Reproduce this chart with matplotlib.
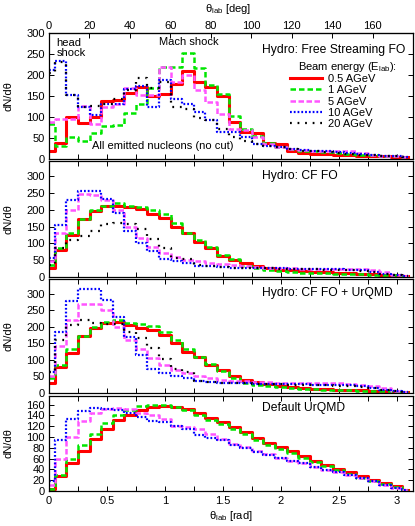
import numpy as np
import matplotlib
matplotlib.use("Agg")
import matplotlib.pyplot as plt
from matplotlib.ticker import MultipleLocator, FixedLocator, FuncFormatter

plt.rcParams['font.family'] = ['Liberation Sans', 'DejaVu Sans']
plt.rcParams['font.size'] = 8
plt.rcParams['mathtext.fontset'] = 'custom'
plt.rcParams['mathtext.rm'] = 'Liberation Sans'
plt.rcParams['mathtext.it'] = 'Liberation Sans'

theta = np.round(np.arange(32) * 0.1, 2)
energies = ["0.5 AGeV", "1 AGeV", "5 AGeV", "10 AGeV", "20 AGeV"]
deg_ticks = [0, 20, 40, 60, 80, 100, 120, 140, 160]

# Panel 1: Hydro free streaming FO
fs_05 = [20, 38, 100, 85, 100, 138, 140, 158, 172, 150, 154, 178, 210, 184, 172, 150, 88, 65, 62, 38, 35, 18, 14, 12, 11, 10, 9, 8, 7, 6, 5, 4]
fs_1 = [84, 30, 52, 44, 62, 78, 80, 110, 132, 168, 218, 218, 252, 216, 176, 154, 102, 72, 55, 39, 28, 24, 20, 18, 16, 14, 12, 10, 9, 8, 6, 5]
fs_5 = [88, 96, 96, 126, 84, 124, 130, 170, 152, 152, 220, 184, 200, 164, 136, 108, 72, 68, 52, 36, 28, 24, 22, 20, 20, 20, 18, 14, 10, 8, 6, 5]
fs_10 = [212, 234, 152, 124, 104, 130, 130, 166, 174, 124, 188, 144, 132, 112, 94, 64, 64, 52, 36, 32, 28, 24, 22, 20, 18, 16, 14, 12, 10, 8, 6, 5]
fs_20 = [205, 230, 152, 124, 126, 132, 142, 164, 194, 170, 184, 124, 120, 98, 92, 72, 52, 44, 36, 32, 28, 24, 20, 18, 16, 14, 12, 10, 9, 8, 6, 5]

# Panel 2: Hydro CF FO
cf_05 = [27, 79, 125, 172, 195, 210, 212, 208, 202, 188, 175, 150, 130, 105, 85, 62, 52, 42, 32, 27, 22, 20, 17, 15, 14, 12, 11, 10, 8, 7, 5, 3]
cf_1 = [37, 87, 132, 172, 198, 212, 220, 212, 208, 200, 188, 160, 132, 109, 88, 65, 55, 32, 27, 22, 18, 15, 13, 12, 11, 10, 9, 8, 7, 6, 5, 3]
cf_5 = [47, 132, 198, 246, 243, 230, 200, 150, 115, 89, 72, 59, 52, 47, 42, 38, 35, 33, 30, 28, 27, 26, 25, 25, 25, 25, 25, 24, 20, 14, 7, 3]
cf_10 = [57, 155, 228, 256, 256, 231, 190, 137, 102, 77, 55, 47, 42, 32, 32, 30, 28, 28, 27, 27, 26, 25, 25, 24, 24, 23, 22, 20, 15, 10, 6, 3]
cf_20 = [37, 87, 109, 122, 137, 157, 162, 159, 142, 112, 87, 57, 55, 35, 32, 30, 28, 28, 27, 26, 25, 24, 24, 23, 22, 21, 20, 18, 14, 10, 6, 3]

# Panel 3: Hydro CF FO + UrQMD
cfu_05 = [30, 78, 122, 172, 197, 212, 215, 205, 198, 190, 175, 152, 125, 108, 85, 70, 50, 40, 32, 28, 22, 18, 15, 13, 12, 10, 9, 8, 7, 5, 4, 2]
cfu_1 = [45, 85, 132, 172, 200, 215, 220, 213, 210, 202, 185, 160, 132, 108, 87, 67, 45, 30, 25, 20, 17, 14, 12, 11, 10, 9, 8, 7, 6, 5, 4, 2]
cfu_5 = [50, 142, 220, 270, 268, 252, 200, 160, 132, 105, 85, 70, 60, 52, 45, 40, 37, 35, 33, 32, 31, 30, 30, 30, 30, 30, 28, 25, 20, 14, 7, 3]
cfu_10 = [65, 185, 278, 315, 315, 282, 230, 170, 115, 72, 60, 50, 45, 35, 33, 31, 30, 29, 28, 27, 27, 26, 26, 25, 25, 24, 23, 20, 15, 10, 6, 3]
cfu_20 = [65, 160, 205, 220, 212, 208, 210, 185, 165, 135, 102, 72, 65, 35, 33, 31, 30, 29, 28, 27, 26, 25, 25, 24, 23, 22, 21, 18, 14, 10, 6, 3]

# Panel 4: Default UrQMD
uq_05 = [3, 27, 51, 75, 97, 115, 132, 140, 150, 156, 157, 155, 151, 145, 136, 128, 118, 109, 98, 89, 82, 74, 65, 56, 48, 40, 35, 27, 21, 15, 9, 2]
uq_1 = [4, 30, 59, 85, 106, 126, 140, 150, 157, 159, 159, 156, 150, 140, 132, 124, 114, 105, 94, 86, 78, 70, 62, 53, 46, 38, 32, 25, 19, 13, 8, 2]
uq_5 = [12, 60, 100, 130, 144, 152, 154, 152, 145, 140, 133, 121, 119, 115, 106, 97, 88, 82, 75, 68, 62, 56, 51, 45, 39, 35, 29, 24, 18, 12, 6, 1]
uq_10 = [18, 95, 133, 148, 154, 152, 150, 144, 138, 130, 127, 120, 115, 103, 98, 94, 86, 79, 72, 66, 62, 56, 51, 45, 39, 35, 29, 24, 18, 12, 6, 1]

panels = [
    ("Hydro: Free Streaming FO", [fs_05, fs_1, fs_5, fs_10, fs_20], 300, 50),
    ("Hydro: CF FO", [cf_05, cf_1, cf_5, cf_10, cf_20], 345, 50),
    ("Hydro: CF FO + UrQMD", [cfu_05, cfu_1, cfu_5, cfu_10, cfu_20], 345, 50),
    ("Default UrQMD", [uq_05, uq_1, uq_5, uq_10], 176, 20),
]

styles = [
    dict(color='#ff0000', lw=2.2, ls='-'),
    dict(color='#00e600', lw=1.8, ls=(0, (2.2, 1.2))),
    dict(color='#ff55ff', lw=1.8, ls=(0, (2.2, 1.0))),
    dict(color='#0000ff', lw=1.6, ls=(0, (0.8, 0.9))),
    dict(color='#000000', lw=1.6, ls=(0, (0.8, 2.6))),
]

W, H = 415, 526
fig = plt.figure(figsize=(W / 100, H / 100), dpi=100)
left, right = 49, 413
bounds = [(33, 159), (161, 277), (279, 393), (396, 491)]
title_y = [50, 176, 293, 408]
axes = []
for (t, b) in bounds:
    ax = fig.add_axes([left / W, 1 - b / H, (right - left) / W, (b - t) / H])
    axes.append(ax)

for i, (ax, (title, series, ymax, ystep)) in enumerate(zip(axes, panels)):
    for s, st, lab in zip(series, styles, energies):
        ax.step(theta, s, where='mid', label=lab, **st)
    ax.set_xlim(0, np.pi)
    ax.set_ylim(0, ymax)
    ax.yaxis.set_major_locator(MultipleLocator(ystep))
    ax.xaxis.set_major_locator(MultipleLocator(0.5))
    ax.xaxis.set_minor_locator(MultipleLocator(0.25))
    ax.xaxis.set_major_formatter(FuncFormatter(lambda v, p: "%g" % v))
    ax.tick_params(which='both', direction='in', right=True, top=(i != 0), length=3.5, width=0.7, labelsize=8)
    ax.tick_params(axis='y', pad=3)
    ax.set_ylabel("dN/dθ", fontsize=8, labelpad=4)
    ax.yaxis.set_label_coords(-0.098, 0.5)
    for sp in ax.spines.values():
        sp.set_linewidth(0.9)
    if i < 3:
        ax.set_xticklabels([])
    t, b = bounds[i]
    ax.text((262 - left) / (right - left), (b - title_y[i]) / (b - t), title,
            transform=ax.transAxes, ha='left', va='center', fontsize=8.7)

ax0 = axes[0]
sec = ax0.secondary_xaxis('top', functions=(np.degrees, np.radians))
sec.xaxis.set_major_locator(FixedLocator(deg_ticks))
sec.tick_params(direction='in', length=3.5, width=0.7, labelsize=8, pad=1.5)
fig.text(228 / W, 1 - 9 / H, r"θ$_{\rm lab}$ [deg]", ha='center', va='center', fontsize=8)
ax0.text(0.02, 0.96, "head\nshock", transform=ax0.transAxes, ha='left', va='top', fontsize=8, linespacing=1.0)
ax0.text(0.385, 0.93, "Mach shock", transform=ax0.transAxes, ha='center', va='center', fontsize=8)
ax0.text(0.313, 0.10, "All emitted nucleons (no cut)", transform=ax0.transAxes, ha='center', va='center', fontsize=8)
ax0.text(0.955, 0.73, r"Beam energy (E$_{\rm lab}$):", transform=ax0.transAxes, ha='right', va='center', fontsize=8)
ax0.legend(loc='upper left', bbox_to_anchor=((290 - left) / (right - left), 0.675), frameon=False, fontsize=8,
           handlelength=2.9, handletextpad=0.55, labelspacing=0.12, borderpad=0.0, borderaxespad=0.0)

axes[3].set_xlabel(r"θ$_{\rm lab}$ [rad]", fontsize=8, labelpad=2)

fig.savefig("out.png", dpi=100)
